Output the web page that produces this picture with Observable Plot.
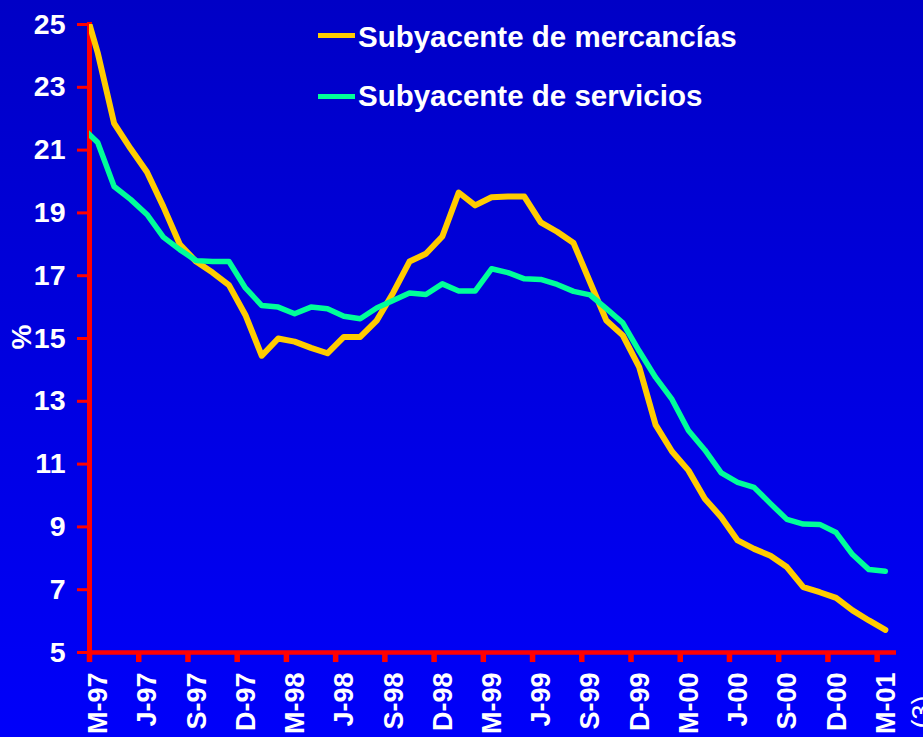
<!DOCTYPE html>
<html><head><meta charset="utf-8">
<script src="https://cdn.jsdelivr.net/npm/d3@7"></script>
<script src="https://cdn.jsdelivr.net/npm/@observablehq/plot@0.6"></script>
<style>
html,body{margin:0;padding:0;}
body{width:923px;height:737px;overflow:hidden;}
#wrap{position:relative;width:923px;height:737px;background:linear-gradient(to bottom,#0000C6 0%,#0000FA 100%);font-family:"Liberation Sans",Arial,sans-serif;color:#fff;overflow:hidden;}
#chart{position:absolute;left:0;top:0;}
.leg{position:absolute;font-weight:bold;font-size:29.5px;line-height:29.5px;white-space:nowrap;}
.sw{position:absolute;height:5px;width:37px;}
.rot{position:absolute;transform:translate(-50%,-50%) rotate(-90deg);white-space:nowrap;line-height:1;}
</style></head><body>
<div id="wrap"><div id="chart"></div></div>
<script>
// Monthly series, Feb-97 .. Mar-01 (month offset from Mar-97: -1 .. 48), plotted mid-month
const firstMonth = -1;
const mercancias = [25.9,
  24.1,21.85,21.05,20.3,19.2,18.0,17.45,17.1,16.7,15.75,
  14.45,15.0,14.9,14.7,14.53,15.05,15.05,15.57,16.45,17.45,17.7,18.25,
  19.65,19.24,19.5,19.52,19.52,18.7,18.4,18.04,16.8,15.57,15.1,14.09,
  12.25,11.4,10.8,9.9,9.31,8.57,8.3,8.08,7.72,7.08,6.92,6.74,
  6.34,6.02,5.72];
const servicios = [21.75,
  21.24,19.84,19.43,18.95,18.23,17.83,17.48,17.45,17.45,16.61,
  16.05,16.0,15.79,16.0,15.95,15.71,15.63,15.97,16.21,16.45,16.4,16.74,
  16.51,16.51,17.22,17.1,16.9,16.88,16.72,16.5,16.39,15.95,15.5,14.6,
  13.76,13.06,12.07,11.45,10.72,10.42,10.26,9.74,9.24,9.09,9.08,8.82,
  8.12,7.64,7.59];
const tickLabels = ["M-97","J-97","S-97","D-97","M-98","J-98","S-98","D-98","M-99","J-99","S-99","D-99","M-00","J-00","S-00","D-00","M-01"];
const tickMonths = tickLabels.map((_, i) => i * 3);
const yTicks = [5,7,9,11,13,15,17,19,21,23,25];
const seriesNames = ["Subyacente de mercancías","Subyacente de servicios"];
const seriesColors = ["#FFCC00","#00FF99"];

const toRows = vals => vals.map((v, i) => ({t: firstMonth + i + 0.5, v}));
const red = "#FF0000";

const chart = Plot.plot({
  width: 923, height: 737,
  marginLeft: 89, marginRight: 27, marginTop: 24, marginBottom: 85,
  style: {background: "transparent", color: "white", fontFamily: "Liberation Sans, Arial, sans-serif", fontWeight: "bold", overflow: "visible"},
  x: {domain: [0, 49.18], axis: null},
  y: {domain: [5, 25]},
  marks: [
    Plot.ruleY([5], {stroke: red, strokeWidth: 4.5}),
    Plot.ruleX(tickMonths, {x: d => d, y1: 5, y2: 4.68, stroke: red, strokeWidth: 5.5}),
    Plot.ruleX([0], {y1: 25.06, y2: 4.68, stroke: red, strokeWidth: 5}),
    Plot.axisY({ticks: yTicks, tickSize: 12, tickPadding: 12, stroke: red, strokeWidth: 3, fill: "white", fontSize: 28.5, fontWeight: "bold", label: null}),
    Plot.text(tickMonths, {x: d => d, y: 5, text: (d, i) => tickLabels[i], rotate: -90, textAnchor: "end", lineAnchor: "middle", dy: 20, dx: 9, fill: "white", fontSize: 27, fontWeight: "bold"}),
    Plot.line(toRows(mercancias), {x: "t", y: "v", stroke: seriesColors[0], strokeWidth: 6, clip: true}),
    Plot.line(toRows(servicios), {x: "t", y: "v", stroke: seriesColors[1], strokeWidth: 5.5, clip: true})
  ]
});
document.getElementById("chart").appendChild(chart);

const wrap = document.getElementById("wrap");
const legTops = [22, 81], swTops = [32.5, 93.5];
seriesNames.forEach((name, i) => {
  const sw = document.createElement("div");
  sw.className = "sw"; sw.style.left = "318px"; sw.style.top = swTops[i] + "px"; sw.style.background = seriesColors[i];
  wrap.appendChild(sw);
  const t = document.createElement("div");
  t.className = "leg"; t.style.left = "358px"; t.style.top = legTops[i] + "px"; t.textContent = name;
  wrap.appendChild(t);
});
const pct = document.createElement("div");
pct.className = "rot"; pct.style.left = "21.5px"; pct.style.top = "336.5px"; pct.style.fontSize = "28px"; pct.style.fontWeight = "bold"; pct.textContent = "%";
wrap.appendChild(pct);
const note = document.createElement("div");
note.className = "rot"; note.style.left = "922px"; note.style.top = "712px"; note.style.fontSize = "27px"; note.textContent = "(3)";
wrap.appendChild(note);
</script>
</body></html>
